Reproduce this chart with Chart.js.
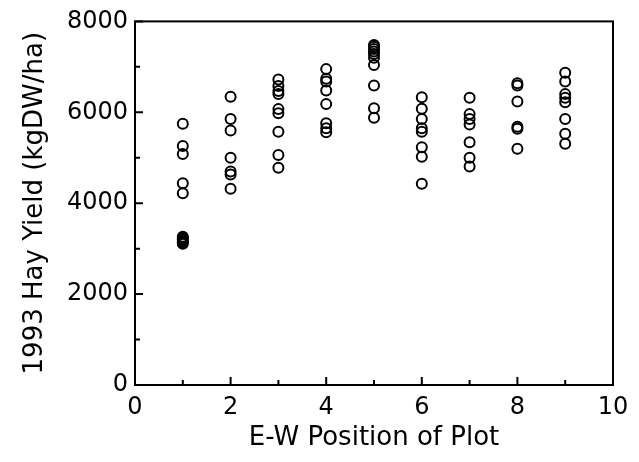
<!DOCTYPE html>
<html>
<head>
<meta charset="utf-8">
<script src="https://cdn.jsdelivr.net/npm/chart.js@4"></script>
<style>
  html, body { margin: 0; padding: 0; background: #fff; }
  #wrap { width: 639px; height: 462px; }
</style>
</head>
<body>
<div id="wrap"><canvas id="hayChart"></canvas></div>
<script>
// E-W plot position and 1993 hay yield (kgDW/ha), one array per position
const positions = [1, 2, 3, 4, 5, 6, 7, 8, 9];
const yieldPos1 = [5750, 5260, 5080, 4440, 4220, 3260, 3230, 3200, 3170, 3140, 3110];
const yieldPos2 = [6340, 5850, 5600, 5000, 4700, 4630, 4320];
const yieldPos3 = [6720, 6580, 6470, 6400, 6070, 5980, 5570, 5060, 4780];
const yieldPos4 = [6950, 6740, 6680, 6480, 6180, 5760, 5650, 5560];
const yieldPos5 = [7480, 7440, 7390, 7340, 7280, 7200, 7040, 6590, 6090, 5880];
const yieldPos6 = [6330, 6080, 5850, 5650, 5570, 5230, 5020, 4430];
const yieldPos7 = [6320, 5960, 5850, 5730, 5340, 5000, 4810];
const yieldPos8 = [6640, 6590, 6240, 5680, 5640, 5200];
const yieldPos9 = [6870, 6680, 6400, 6320, 6220, 5850, 5530, 5310];
const yieldByPos = [yieldPos1, yieldPos2, yieldPos3, yieldPos4, yieldPos5, yieldPos6, yieldPos7, yieldPos8, yieldPos9];

const xMinor = [1, 3, 5, 7, 9];
const yMinor = [1000, 3000, 5000, 7000];

const points = [];
positions.forEach((p, i) => yieldByPos[i].forEach(v => points.push({ x: p, y: v })));

const FONT = "'DejaVu Sans', sans-serif";

// box frame + inward tick marks
const frameTicks = {
  id: "frameTicks",
  afterDraw(chart) {
    const { ctx, chartArea: a, scales: { x, y } } = chart;
    ctx.save();
    ctx.strokeStyle = "#000";
    ctx.lineWidth = 2;
    ctx.strokeRect(a.left, a.top, a.right - a.left, a.bottom - a.top);
    ctx.beginPath();
    const xt = (v, len) => {
      const px = x.getPixelForValue(v);
      ctx.moveTo(px, a.bottom); ctx.lineTo(px, a.bottom - len);
    };
    const yt = (v, len) => {
      const py = y.getPixelForValue(v);
      ctx.moveTo(a.left, py); ctx.lineTo(a.left + len, py);
    };
    x.ticks.forEach(t => xt(t.value, 8));
    xMinor.forEach(v => xt(v, 5));
    y.ticks.forEach(t => yt(t.value, 8));
    yMinor.forEach(v => yt(v, 5));
    ctx.stroke();
    ctx.restore();
  }
};

new Chart(document.getElementById("hayChart"), {
  type: "scatter",
  data: {
    datasets: [{
      data: points,
      pointStyle: "circle",
      pointRadius: 5,
      pointBorderWidth: 2,
      pointBorderColor: "#000",
      pointBackgroundColor: "rgba(0,0,0,0)"
    }]
  },
  options: {
    responsive: true,
    maintainAspectRatio: false,
    animation: false,
    events: [],
    layout: { padding: { left: 0, top: 20, right: 26, bottom: 0 } },
    plugins: { legend: { display: false }, tooltip: { enabled: false } },
    scales: {
      x: {
        type: "linear",
        min: 0, max: 10,
        grid: { display: false, drawTicks: false },
        border: { display: false },
        ticks: { stepSize: 2, padding: 8, color: "#000", font: { family: FONT, size: 24 } },
        title: { display: true, text: "E-W Position of Plot", color: "#000", padding: { top: 0, bottom: 8 }, font: { family: FONT, size: 26 } },
        afterFit(s) { s.height = 77; }
      },
      y: {
        min: 0, max: 8000,
        grid: { display: false, drawTicks: false },
        border: { display: false },
        ticks: {
          stepSize: 2000, padding: 7, color: "#000", font: { family: FONT, size: 24 },
          callback: v => String(v)
        },
        title: { display: true, text: "1993 Hay Yield (kgDW/ha)", color: "#000", padding: { top: 20, bottom: 0 }, font: { family: FONT, size: 26 } },
        afterFit(s) { s.width = 135; }
      }
    }
  },
  plugins: [frameTicks]
});
</script>
</body>
</html>
